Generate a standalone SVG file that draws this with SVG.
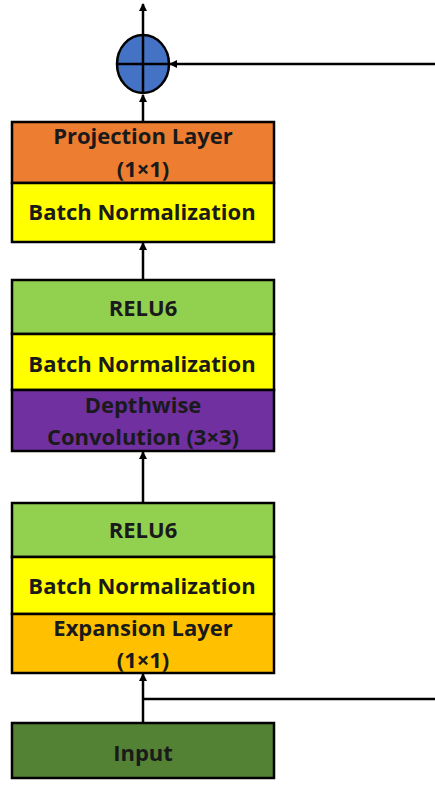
<svg xmlns="http://www.w3.org/2000/svg" width="435" height="788" viewBox="0 0 435 788">
<style>
.box{stroke:#000;stroke-width:2.5}
.t{font-family:"Open Sans","Liberation Sans",sans-serif;font-weight:bold;font-size:22px;fill:#1a1a1a;text-anchor:middle}
.c{stroke:#000;stroke-width:2.5;fill:none}
</style>
<defs>
<marker id="ah" markerWidth="8" markerHeight="8" refX="7" refY="4" orient="auto" markerUnits="userSpaceOnUse">
<path d="M0,0 L8,4 L0,8 Z" fill="#000"/>
</marker>
</defs>
<rect width="435" height="788" fill="#fff"/>
<g id="connectors">
<path class="c" d="M143,35 L143,4" marker-end="url(#ah)"/>
<path class="c" d="M435,64 L170,64" marker-end="url(#ah)"/>
<path class="c" d="M143,122 L143,95" marker-end="url(#ah)"/>
<path class="c" d="M143,280 L143,243" marker-end="url(#ah)"/>
<path class="c" d="M143,503 L143,452" marker-end="url(#ah)"/>
<path class="c" d="M143,723 L143,674" marker-end="url(#ah)"/>
<path class="c" d="M143,699 L435,699"/>
</g>
<g id="add">
<ellipse cx="143" cy="64" rx="26" ry="29" fill="#4472C4" stroke="#000" stroke-width="2.5"/>
<path d="M117,64 H169 M143,35 V93" stroke="#000" stroke-width="2.5"/>
</g>
<g id="projection">
<rect class="box" x="12" y="122" width="262" height="61" fill="#ED7D31"/>
<text class="t" x="143" y="144">Projection Layer</text>
<text class="t" x="143" y="177">(1×1)</text>
</g>
<g id="bn3">
<rect class="box" x="12" y="183" width="262" height="59" fill="#FFFF00"/>
<text class="t" x="142" y="220">Batch Normalization</text>
</g>
<g id="relu2">
<rect class="box" x="12" y="280" width="262" height="54" fill="#92D050"/>
<text class="t" x="143" y="316">RELU6</text>
</g>
<g id="bn2">
<rect class="box" x="12" y="334" width="262" height="56" fill="#FFFF00"/>
<text class="t" x="142" y="372">Batch Normalization</text>
</g>
<g id="depthwise">
<rect class="box" x="12" y="390" width="262" height="61" fill="#7030A0"/>
<text class="t" x="143" y="413">Depthwise</text>
<text class="t" x="143" y="445">Convolution (3×3)</text>
</g>
<g id="relu1">
<rect class="box" x="12" y="503" width="262" height="54" fill="#92D050"/>
<text class="t" x="143" y="538">RELU6</text>
</g>
<g id="bn1">
<rect class="box" x="12" y="557" width="262" height="57" fill="#FFFF00"/>
<text class="t" x="142" y="594">Batch Normalization</text>
</g>
<g id="expansion">
<rect class="box" x="12" y="614" width="262" height="59" fill="#FFC000"/>
<text class="t" x="143" y="636">Expansion Layer</text>
<text class="t" x="143" y="668">(1×1)</text>
</g>
<g id="input">
<rect class="box" x="12" y="723" width="262" height="55" fill="#548235"/>
<text class="t" x="143" y="761">Input</text>
</g>
</svg>
